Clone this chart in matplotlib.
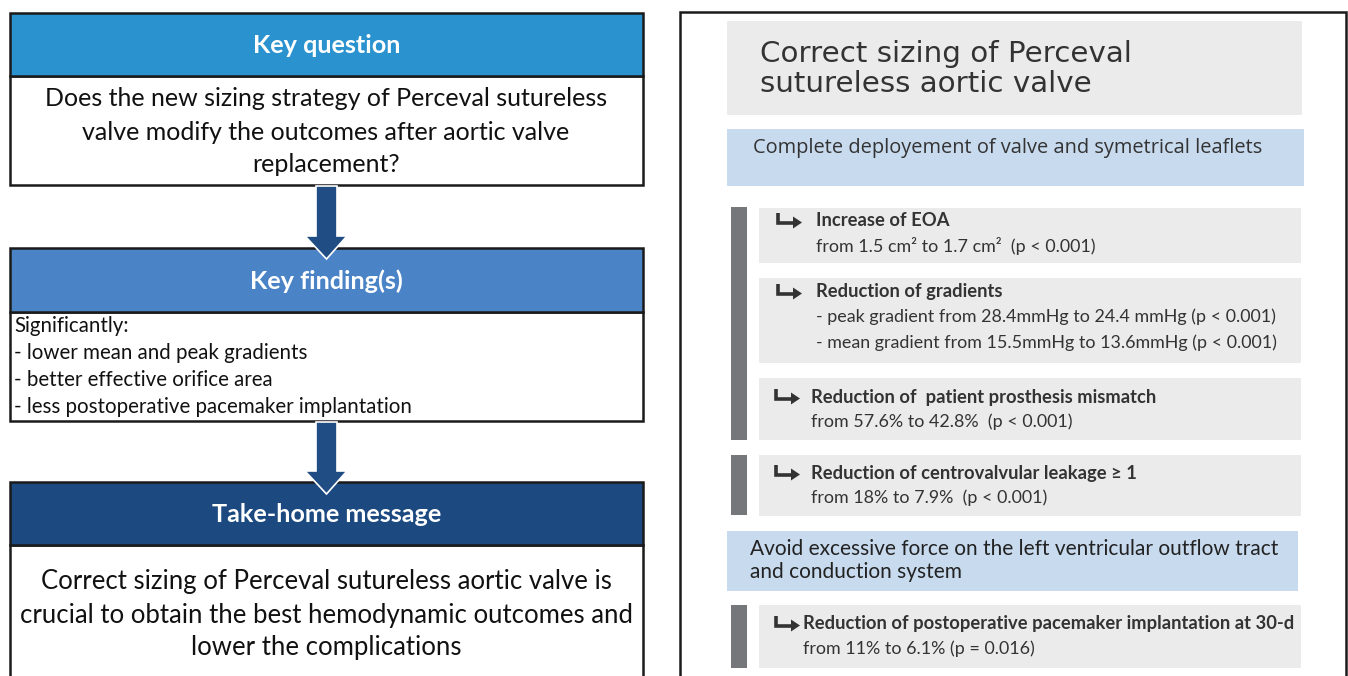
import matplotlib
matplotlib.use("Agg")
import matplotlib.pyplot as plt
from matplotlib.patches import Rectangle, Polygon

# ---------------------------------------------------------------
# Texts of the graphical abstract
# ---------------------------------------------------------------
left_headers = ["Key question", "Key finding(s)", "Take-home message"]
header_colors = ["#2a92cf", "#4b84c6", "#1c4a80"]

question_lines = ["Does the new sizing strategy of Perceval sutureless",
                  "valve modify the outcomes after aortic valve",
                  "replacement?"]
finding_lines = ["Significantly:",
                 "- lower mean and peak gradients",
                 "- better effective orifice area",
                 "- less postoperative pacemaker implantation"]
message_lines = ["Correct sizing of Perceval sutureless aortic valve is",
                 "crucial to obtain the best hemodynamic outcomes and",
                 "lower the complications"]

right_title = ["Correct sizing of Perceval", "sutureless aortic valve"]
section_1 = ["Complete deployement of valve and symetrical leaflets"]
section_2 = ["Avoid excessive force on the left ventricular outflow tract",
             "and conduction system"]

item_titles = ["Increase of EOA",
               "Reduction of gradients",
               "Reduction of  patient prosthesis mismatch",
               "Reduction of centrovalvular leakage \u2265 1",
               "Reduction of postoperative pacemaker implantation at 30-d"]
item_details = [["from 1.5 cm\u00b2 to 1.7 cm\u00b2  (p < 0.001)"],
                ["- peak gradient from 28.4mmHg to 24.4 mmHg (p < 0.001)",
                 "- mean gradient from 15.5mmHg to 13.6mmHg (p < 0.001)"],
                ["from 57.6% to 42.8%  (p < 0.001)"],
                ["from 18% to 7.9%  (p < 0.001)"],
                ["from 11% to 6.1% (p = 0.016)"]]

# ---------------------------------------------------------------
# Figure in pixel coordinates
# ---------------------------------------------------------------
fig = plt.figure(figsize=(13.48, 6.76), dpi=100)
ax = fig.add_axes([0, 0, 1, 1])
ax.set_xlim(0, 1348)
ax.set_ylim(676, 0)
ax.axis("off")

CAL = ["Lato", "DejaVu Sans"]
EDGE = "#1a1a1a"
DARK = "#333333"

def box(x0, y0, x1, y1, fc, ec="none", lw=0, z=1):
    ax.add_patch(Rectangle((x0, y0), x1 - x0, y1 - y0, facecolor=fc,
                           edgecolor=ec, linewidth=lw, zorder=z))

def down_arrow(y0, y1, y2):
    pts = [(316, y0), (337, y0), (337, y1), (347, y1), (326.5, y2),
           (305, y1), (316, y1)]
    ax.add_patch(Polygon(pts, closed=True, facecolor="#1f4d84",
                         edgecolor="white", linewidth=1.2, zorder=5))

def hook_arrow(x, y):
    # small "turn right" arrow drawn in front of each finding
    ax.plot([x, x, x + 16], [y - 8, y + 1.5, y + 1.5], color=DARK,
            linewidth=2.6, solid_capstyle="butt", solid_joinstyle="miter",
            zorder=3)
    ax.add_patch(Polygon([(x + 15, y - 4.5), (x + 24, y + 1.5), (x + 15, y + 7.5)],
                         closed=True, facecolor=DARK, edgecolor="none", zorder=3))

# ---- left column ----
left_x0, left_x1 = 10, 643
header_y = [(13, 76), (248, 312), (482, 545)]
body_y = [(76, 185), (312, 421), (545, 690)]

for (hy0, hy1), (by0, by1), title, col in zip(header_y, body_y, left_headers, header_colors):
    box(left_x0, by0, left_x1, by1, "white", EDGE, 1.8, z=2)
    box(left_x0, hy0, left_x1, hy1, col, EDGE, 1.8, z=3)
    ax.text((left_x0 + left_x1) / 2, (hy0 + hy1) / 2 + 1, title, ha="center",
            va="center", fontsize=18.2, fontweight="bold", color="white",
            family=CAL, zorder=4)

for i, line in enumerate(question_lines):
    ax.text(326, 99 + i * 33, line, ha="center", va="center", fontsize=18,
            color="#111111", family=CAL, zorder=4)

for i, line in enumerate(finding_lines):
    ax.text(14, 326 + i * 27, line, ha="left", va="center", fontsize=14.8,
            color="#111111", family=CAL, zorder=4)

for i, line in enumerate(message_lines):
    ax.text(326, 582 + i * 33, line, ha="center", va="center", fontsize=18.5,
            color="#111111", family=CAL, zorder=4)

down_arrow(186, 236, 259)
down_arrow(422, 471, 494)

# ---- right column ----
box(680, 12, 1346, 700, "white", EDGE, 1.8, z=1)

box(727, 21, 1302, 115, "#ebebeb", z=2)
for i, line in enumerate(right_title):
    ax.text(760, 54 + i * 30, line, ha="left", va="center", fontsize=21.2,
            color="#333333", family="DejaVu Sans", zorder=3)

box(727, 129, 1304, 186, "#c8daee", z=2)
ax.text(753, 148, section_1[0], ha="left", va="center", fontsize=14.4,
        color="#333333", family="Open Sans", zorder=3)

box(727, 531, 1298, 591, "#c8daee", z=2)
for i, line in enumerate(section_2):
    ax.text(750, 549 + i * 23, line, ha="left", va="center", fontsize=15,
            color="#222222", family=CAL, zorder=3)

# grey side bars
bar_spans = [(207, 440), (455, 515), (605, 668)]
for y0, y1 in bar_spans:
    box(731, y0, 747, y1, "#75777a", z=2)

# finding items
item_boxes = [(208, 263), (278, 363), (378, 440), (455, 516), (605, 668)]
title_dy = [13, 14, 19, 18, 19]
arrow_x = [778, 778, 776, 776, 776]
text_x = [816, 816, 811, 811, 803]
for k, (y0, y1) in enumerate(item_boxes):
    box(759, y0, 1301, y1, "#ebebeb", z=2)
    ty = y0 + title_dy[k]
    hook_arrow(arrow_x[k], ty)
    ax.text(text_x[k], ty, item_titles[k], ha="left", va="center",
            fontsize=13.2, fontweight="bold", color=DARK, family=CAL, zorder=3)
    for j, line in enumerate(item_details[k]):
        ax.text(text_x[k], ty + 25 + j * 26, line, ha="left", va="center",
                fontsize=12.9, color=DARK, family=CAL, zorder=3)

fig.savefig("out.png", dpi=100)
